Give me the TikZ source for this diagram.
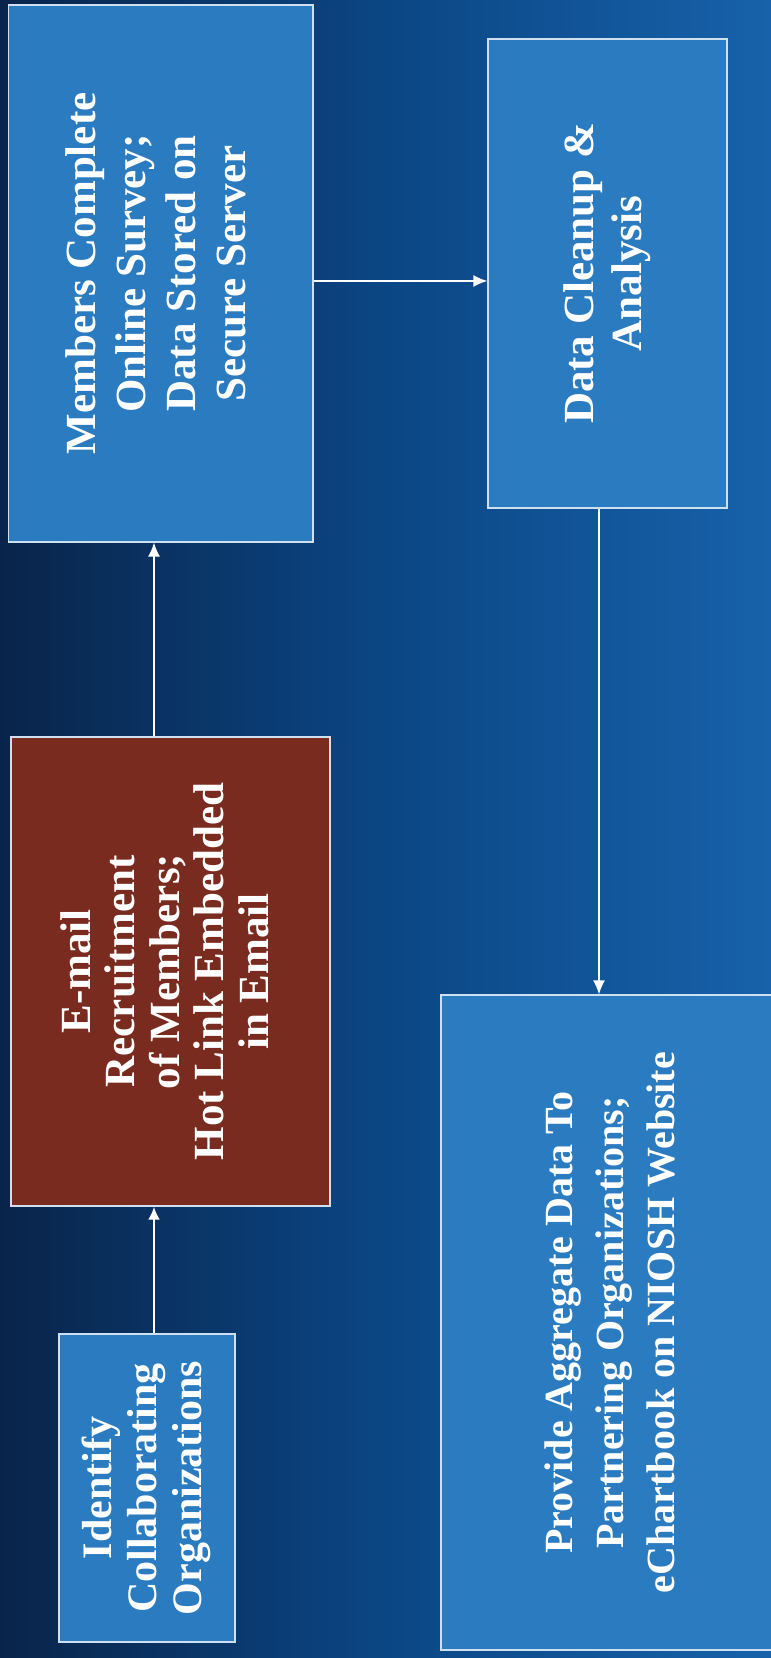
\documentclass[tikz,border=0pt]{standalone}
\usepackage{fontspec}
\setmainfont{Liberation Serif}
\usetikzlibrary{arrows.meta,calc}
\definecolor{bgleft}{HTML}{09244A}
\definecolor{bgmid}{HTML}{0B4684}
\definecolor{bgright}{HTML}{1762AA}
\definecolor{boxblue}{HTML}{2A7BC0}
\definecolor{boxred}{HTML}{7A2B1F}
\definecolor{edge}{HTML}{CFE0F1}
\begin{document}
\begin{tikzpicture}[x=1pt,y=1pt,
  flowbox/.style={draw=edge,line width=1.3pt,fill=boxblue,text=white,inner sep=0pt},
  redbox/.style={flowbox,fill=boxred},
  conn/.style={draw=white,line width=1.4pt,-{Latex[length=14pt,width=12pt]}},
  thickconn/.style={draw=white,line width=2.6pt,-{Latex[length=13pt,width=12pt]}}]
\useasboundingbox (0,0) rectangle (771,1658);
\begin{scope}
\clip (0,0) rectangle (771,1658);
\shade[left color=bgleft,right color=bgright,middle color=bgmid] (0,0) rectangle (771,1658);
% boxes (tikz y = 1658 - image y)
\node[flowbox,minimum width=304.5pt,minimum height=537pt] (members) at (160.75,1384.5)
  {\rotatebox{90}{\fontsize{43}{50}\selectfont\bfseries\begin{tabular}{@{}c@{}}Members Complete\\Online Survey;\\Data Stored on\\Secure Server\end{tabular}}};
\node[flowbox,minimum width=239pt,minimum height=469pt] (data) at (607.5,1384.5)
  {\rotatebox{90}{\fontsize{43}{48}\selectfont\bfseries\begin{tabular}{@{}c@{}}Data Cleanup \&\\Analysis\end{tabular}}};
\node[redbox,minimum width=319pt,minimum height=469pt] (email) at (170.5,686.5)
  {\rotatebox{90}{\fontsize{43}{44.5}\selectfont\bfseries\begin{tabular}{@{}c@{}}E-mail\\Recruitment\\of Members;\\Hot Link Embedded\\in Email\end{tabular}}};
\node[flowbox,minimum width=176pt,minimum height=308pt] (identify) at (147,170)
  {\rotatebox{90}{\fontsize{42}{45}\selectfont\bfseries\begin{tabular}{@{}c@{}}Identify\\Collaborating\\Organizations\end{tabular}}};
\node[flowbox,minimum width=344pt,minimum height=655pt] (provide) at (613,335.5)
  {\rotatebox{90}{\fontsize{40}{51}\selectfont\bfseries\begin{tabular}{@{}c@{}}Provide Aggregate Data To\\Partnering Organizations;\\eChartbook on NIOSH Website\end{tabular}}};
% connectors
\coordinate (colA) at (154,0);
\coordinate (colB) at (599,0);
\coordinate (rowA) at (0,1377);
\draw[thickconn] (identify.north -| colA) -- (email.south -| colA);
\draw[conn] (email.north -| colA) -- (members.south -| colA);
\draw[conn] (members.east |- rowA) -- (data.west |- rowA);
\draw[conn] (data.south -| colB) -- (provide.north -| colB);
\end{scope}
\end{tikzpicture}
\end{document}
